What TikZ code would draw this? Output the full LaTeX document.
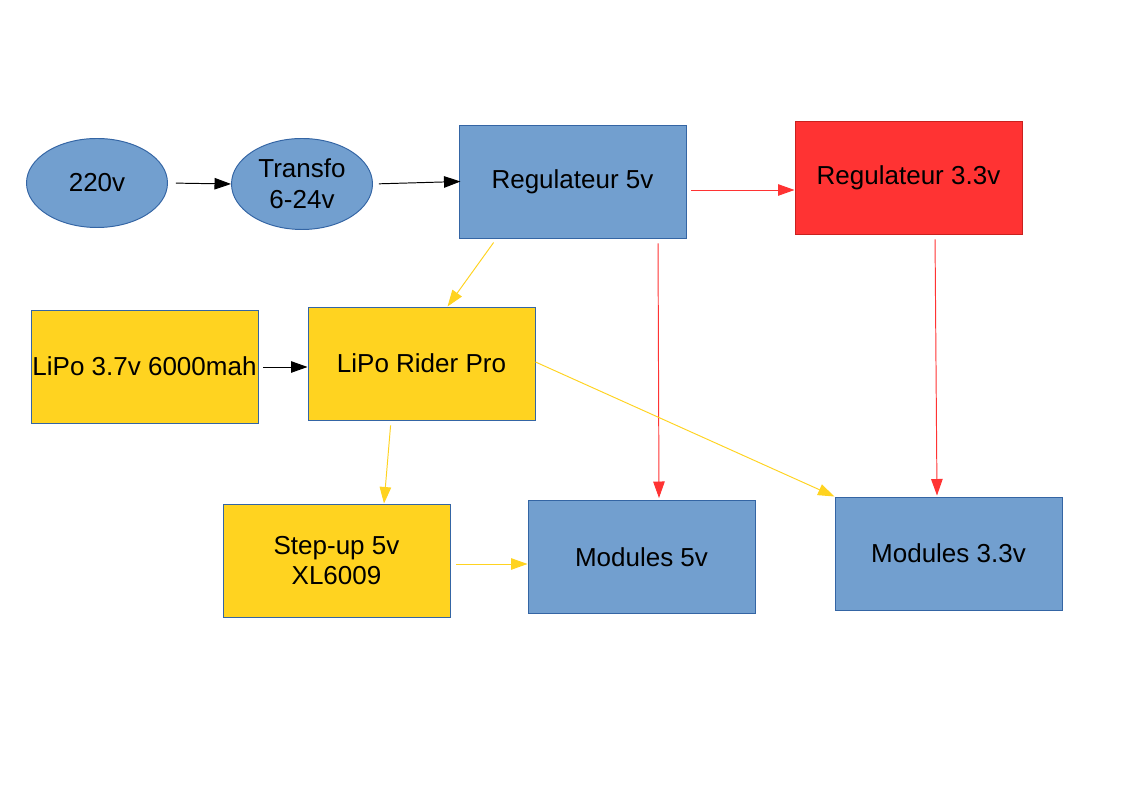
\documentclass[tikz,border=0pt]{standalone}
\usepackage{fontspec}
\setmainfont{Liberation Sans}
\usetikzlibrary{shapes.geometric,arrows.meta}
\definecolor{boxblue}{HTML}{729FCF}
\definecolor{edgeblue}{HTML}{3465A4}
\definecolor{boxyellow}{HTML}{FFD320}
\definecolor{boxred}{HTML}{FF3333}
\definecolor{edgered}{HTML}{C9211E}

\tikzset{
  src/.style={draw=edgeblue,fill=boxblue,ellipse,inner sep=0pt,
              minimum width=2.82cm,minimum height=1.78cm,align=center},
  blk/.style={draw=edgeblue,rectangle,inner sep=0pt,
              minimum width=4.54cm,minimum height=2.26cm,align=center}}

\begin{document}
\begin{tikzpicture}
[font=\fontsize{14.8pt}{17.4pt}\selectfont, line width=0.55pt,
 >={Triangle[length=3.3mm,width=2.3mm]}]
\useasboundingbox (0,0) rectangle (22.46,15.88);
\node (v220) at (1.94,12.22) [src] {220v};
\node (transfo) at (6.04,12.20) [src, minimum height=1.82cm] {Transfo\\6-24v};
\node (reg5) at (11.45,12.25) [blk, fill=boxblue] {Regulateur 5v};
\node (reg33) at (18.17,12.33) [blk, draw=edgered, fill=boxred] {Regulateur 3.3v};
\node (lipo) at (2.89,8.55) [blk, fill=boxyellow] {LiPo 3.7v 6000mah};
\node (rider) at (8.43,8.61) [blk, fill=boxyellow] {LiPo Rider Pro};
\node (stepup) at (6.73,4.67) [blk, fill=boxyellow] {Step-up 5v\\XL6009};
\node (mod5) at (12.83,4.74) [blk, fill=boxblue] {Modules 5v};
\node (mod33) at (18.97,4.81) [blk, fill=boxblue] {Modules 3.3v};

\draw [->, shorten <=1.6mm] (v220.east) to (transfo.west);
\draw [->, shorten <=1.2mm] (transfo.east) to ([xshift=0.4mm]reg5.west);
\draw [->, boxred, shorten <=1mm] ([yshift=-0.17cm]reg5.east) to ([yshift=-0.17cm]reg5.east -| reg33.west);
\draw [->, boxyellow, shorten <=1mm] ([xshift=0.76cm]reg5.south west) to ([xshift=2.8cm]rider.north west);
\draw [->, boxred, shorten <=1mm] ([xshift=1.71cm]reg5.south) to ([xshift=0.35cm,yshift=0.04cm]mod5.north);
\draw [->, boxred, shorten <=1mm] ([xshift=0.53cm]reg33.south) to ([xshift=-0.23cm,yshift=0.02cm]mod33.north);
\draw [->, shorten <=1mm] ([yshift=-0.01cm]lipo.east) to ([yshift=-0.01cm]lipo.east -| rider.west);
\draw [->, boxyellow] ([yshift=0.03cm]rider.east) to (mod33.north west);
\draw [->, boxyellow, shorten <=1mm] ([xshift=-0.61cm]rider.south) to ([xshift=0.95cm]stepup.north);
\draw [->, boxyellow, shorten <=1.2mm] ([yshift=-0.07cm]stepup.east) to ([yshift=-0.07cm]stepup.east -| mod5.west);
\end{tikzpicture}
\end{document}
